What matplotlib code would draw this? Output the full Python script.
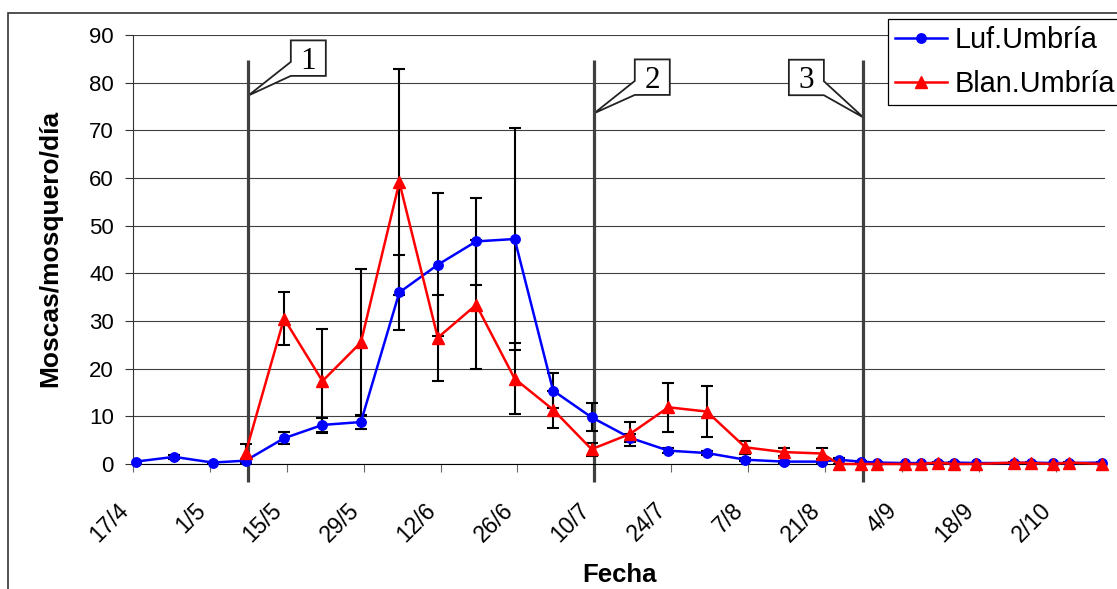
import matplotlib
matplotlib.use("Agg")
import matplotlib.pyplot as plt
import matplotlib.dates as mdates
from matplotlib.patches import Polygon, Rectangle
from matplotlib.transforms import IdentityTransform, ScaledTranslation
import pandas as pd

plt.rcParams["font.family"] = ["Liberation Sans", "DejaVu Sans"]

YEAR = 2003

# fechas de muestreo (día/mes)
fechas = ["17/4", "24/4", "1/5", "7/5", "14/5", "21/5", "28/5", "4/6", "11/6",
          "18/6", "25/6", "2/7", "9/7", "16/7", "23/7", "30/7", "6/8", "13/8",
          "20/8", "23/8", "27/8", "30/8", "4/9", "7/9", "10/9", "13/9", "17/9",
          "24/9", "27/9", "1/10", "4/10", "10/10"]

luf_umbria = [0.5, 1.5, 0.3, 0.7, 5.4, 8.2, 8.8, 36.0, 41.8, 46.7, 47.2, 15.4,
              9.8, 5.5, 2.8, 2.3, 0.9, 0.5, 0.5, 0.9, 0.5, 0.3, 0.2, 0.2, 0.2,
              0.3, 0.2, 0.2, 0.3, 0.2, 0.2, 0.3]
luf_err = [0.2, 0.4, 0.1, 0.4, 1.3, 1.4, 1.5, 7.8, 15.0, 9.1, 23.3, 3.7,
           2.9, 0.8, 0.5, 0.5, 0.3, 0.2, 0.2, 0.3, 0.2, 0.1, 0.1, 0.1, 0.1,
           0.1, 0.1, 0.1, 0.1, 0.1, 0.1, 0.1]

blan_fechas = fechas[3:]
blan_umbria = [2.3, 30.5, 17.4, 25.5, 59.1, 26.5, 33.4, 17.9, 11.4, 3.1, 6.3,
               11.9, 11.0, 3.5, 2.5, 2.2, 0.0, 0.0, 0.0, 0.0, 0.0, 0.3, 0.0,
               0.0, 0.3, 0.2, 0.0, 0.3, 0.0]
blan_err = [2.0, 5.6, 10.9, 15.4, 23.7, 9.0, 13.5, 7.4, 3.9, 1.4, 2.6,
            5.1, 5.3, 1.3, 0.9, 1.1, 0.1, 0.1, 0.1, 0.1, 0.1, 0.1, 0.1,
            0.1, 0.1, 0.1, 0.1, 0.1, 0.1]

tick_labels = ["17/4", "1/5", "15/5", "29/5", "12/6", "26/6", "10/7", "24/7",
               "7/8", "21/8", "4/9", "18/9", "2/10"]
eje_fin = "11/10"

eventos = ["8/5", "10/7", "28/8"]
evento_labels = ["1", "2", "3"]
evento_punta = [77.3, 73.6, 72.7]


def to_date(s):
    d, m = s.split("/")
    return pd.Timestamp(YEAR, int(m), int(d))


def centro_dia(lst):
    # Excel centra cada punto en su día
    return [to_date(s) + pd.Timedelta(hours=12) for s in lst]


def callout(ax, text, tip, offset, size=(35, 35.5), base=14):
    tx, ty = ax.transData.transform((mdates.date2num(tip[0]), tip[1]))
    cx, cy = tx + offset[0], ty + offset[1]
    w, h = size
    L, R, B, T = cx - w / 2, cx + w / 2, cy - h / 2, cy + h / 2
    if offset[0] > 0:
        pts = [(L, T), (R, T), (R, B), (L, B), (tx, ty), (L, B + base)]
    else:
        pts = [(L, T), (R, T), (R, B + base), (tx, ty), (R, B), (L, B)]
    ax.add_patch(Polygon(pts, closed=True, transform=IdentityTransform(),
                         fc="white", ec="#222222", lw=1.3, zorder=1.5,
                         clip_on=False))
    ax.text(cx, cy - 3, text, transform=IdentityTransform(), ha="center",
            va="center", fontsize=22.5, family="Liberation Serif", zorder=1.6)


fig = plt.figure(figsize=(11.17, 5.89), dpi=100)
ax = fig.add_axes([133 / 1117, 1 - 464 / 589, (1105 - 133) / 1117, (464 - 35) / 589])

ax.set_xlim(to_date(tick_labels[0]), to_date(eje_fin))
ax.set_ylim(0, 90)
ax.set_yticks(range(0, 91, 10))
ax.set_xticks([to_date(s) for s in tick_labels])
ax.set_xticklabels(tick_labels, rotation=45, ha="right", va="top")
offset = ScaledTranslation(-4 / 72, 0, fig.dpi_scale_trans)
for lab in ax.get_xticklabels():
    lab.set_transform(lab.get_transform() + offset)

ax.tick_params(axis="y", direction="out", length=5.8, width=0.8, color="#333333",
               labelsize=16, pad=8)
ax.tick_params(axis="x", direction="out", length=5.8, width=0.8, color="#666666",
               labelsize=16.5, pad=19)
for s in ("top", "right"):
    ax.spines[s].set_visible(False)
ax.spines["left"].set_color("#333333")
ax.spines["bottom"].set_color("black")
ax.yaxis.grid(True, color="#404040", lw=0.8, zorder=0.5)
ax.set_axisbelow(True)

x_luf = centro_dia(fechas)
x_blan = centro_dia(blan_fechas)

ax.errorbar(x_luf, luf_umbria, yerr=luf_err, fmt="none", ecolor="black",
            elinewidth=1.5, capsize=4.6, capthick=1.5, zorder=3)
ax.errorbar(x_blan, blan_umbria, yerr=blan_err, fmt="none", ecolor="black",
            elinewidth=1.5, capsize=4.6, capthick=1.5, zorder=3)
ax.plot(x_luf, luf_umbria, color="#0000FF", lw=1.8, marker="o", ms=6.8,
        label="Luf.Umbría", zorder=4, clip_on=False)
ax.plot(x_blan, blan_umbria, color="#FF0000", lw=1.8, marker="^", ms=8.5,
        label="Blan.Umbría", zorder=5, clip_on=False)

fechas_ev = [to_date(s) for s in eventos]
ax.vlines(fechas_ev, -3.7, 84.7, color="#404040", lw=2.3, zorder=2, clip_on=False)

offsets = [(60, 37.4), (58, 36), (-57, 40)]
for lab, d, y, off in zip(evento_labels, fechas_ev, evento_punta, offsets):
    callout(ax, lab, (d, y), off)

leg = fig.legend(loc="upper left", bbox_to_anchor=(887.7 / 1117, 1 - 19 / 589),
                 bbox_transform=fig.transFigure, borderaxespad=0, fontsize=20.8,
                 frameon=True, fancybox=False, edgecolor="black", framealpha=1,
                 handlelength=1.8, handletextpad=0.25, labelspacing=0.55,
                 borderpad=0.25)
leg.get_frame().set_linewidth(0.9)

fig.text(50 / 1117, 1 - 248 / 589, "Moscas/mosquero/día", rotation=90,
         ha="center", va="center", fontsize=19, fontweight="bold")
fig.text(620 / 1117, 1 - 575 / 589, "Fecha", ha="center", va="center",
         fontsize=18.5, fontweight="bold")

fig.patches.append(Rectangle((8.3 / 1117, -0.1), 1.2, 1 - 12.7 / 589 + 0.1,
                             transform=fig.transFigure, fill=False,
                             ec="#333333", lw=1.2, figure=fig))

fig.savefig("out.png", dpi=100)
